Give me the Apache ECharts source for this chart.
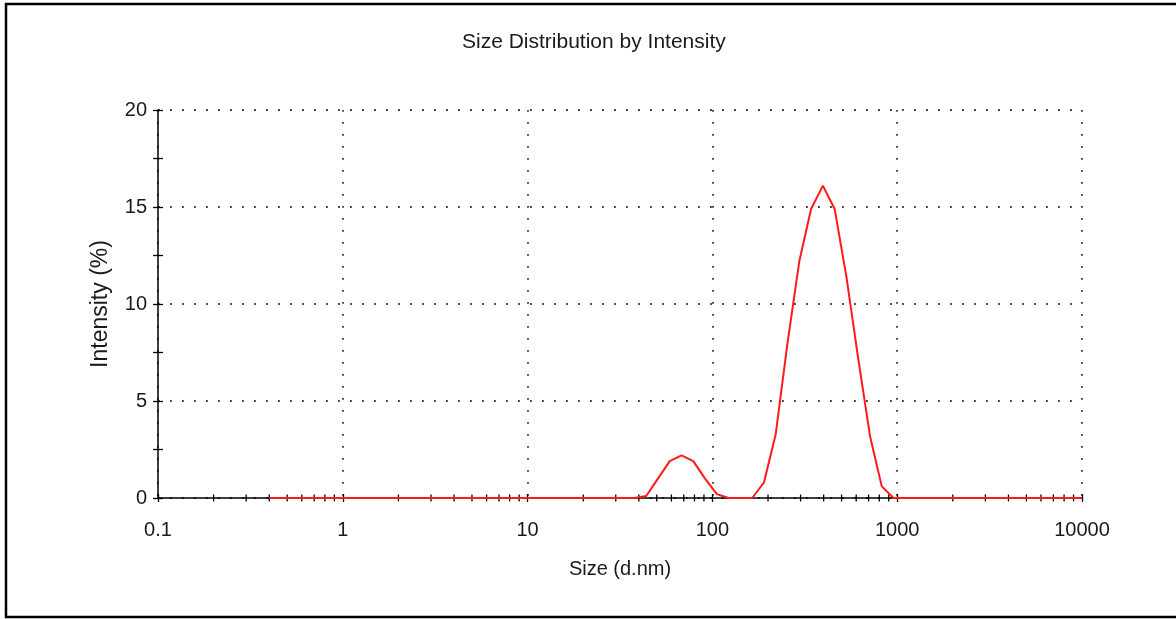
<!DOCTYPE html>
<html>
<head>
<meta charset="utf-8">
<title>Size Distribution by Intensity</title>
<script src="https://cdn.jsdelivr.net/npm/echarts@6/dist/echarts.min.js"></script>
<style>
  html, body { margin: 0; padding: 0; background: #fff; }
  #chart { width: 1176px; height: 619px; }
</style>
</head>
<body>
<div id="chart"></div>
<script>
// size bins (d.nm) and intensity (%)
const sizes = [
  0.4, 0.4632, 0.5365, 0.6213, 0.7195, 0.8332, 0.9649, 1.117, 1.294, 1.499,
  1.736, 2.01, 2.328, 2.696, 3.122, 3.615, 4.187, 4.849, 5.615, 6.503,
  7.531, 8.721, 10.1, 11.7, 13.54, 15.69, 18.17, 21.04, 24.36, 28.21,
  32.67, 37.84, 43.82, 50.75, 58.77, 68.06, 78.82, 91.28, 105.7, 122.4,
  141.8, 164.2, 190.1, 220.2, 255.0, 295.3, 342.0, 396.1, 458.7, 531.2,
  615.1, 712.4, 825.0, 955.4, 1106, 1281, 1484, 1718, 1990, 2305,
  2669, 3091, 3580, 4145, 4801, 5560, 6439, 7456, 8635, 10000
];
const intensity = [
  0, 0, 0, 0, 0, 0, 0, 0, 0, 0,
  0, 0, 0, 0, 0, 0, 0, 0, 0, 0,
  0, 0, 0, 0, 0, 0, 0, 0, 0, 0,
  0, 0, 0.1, 1.0, 1.9, 2.2, 1.9, 1.0, 0.2, 0,
  0, 0, 0.8, 3.3, 8.0, 12.2, 14.9, 16.1, 14.9, 11.4,
  7.2, 3.2, 0.6, 0, 0, 0, 0, 0, 0, 0,
  0, 0, 0, 0, 0, 0, 0, 0, 0, 0
];
const xMinorTicks = [
  0.2, 0.3, 0.4, 0.5, 0.6, 0.7, 0.8, 0.9,
  2, 3, 4, 5, 6, 7, 8, 9,
  20, 30, 40, 50, 60, 70, 80, 90,
  200, 300, 400, 500, 600, 700, 800, 900,
  2000, 3000, 4000, 5000, 6000, 7000, 8000, 9000
];

const font = "'Liberation Sans', Arial, Helvetica, sans-serif";
const textColor = '#1a1a1a';
const gridDots = { color: '#3a3a3a', width: 1.8, type: [1.8, 10.2] };
const tickStyle = { color: '#000', width: 1.3 };

const xCommon = {
  type: 'log',
  logBase: 10,
  min: 0.1,
  max: 10000,
  gridIndex: 0,
  position: 'bottom',
};
const yCommon = {
  type: 'value',
  min: 0,
  max: 20,
  interval: 5,
  gridIndex: 0,
  position: 'left',
};

const chart = echarts.init(document.getElementById('chart'), null, { renderer: 'canvas' });

const option = {
  animation: false,
  backgroundColor: '#fff',
  textStyle: { fontFamily: font },
  title: {
    text: 'Size Distribution by Intensity',
    left: 457,
    top: 27,
    textStyle: { fontFamily: font, fontSize: 21, fontWeight: 'normal', color: textColor },
  },
  grid: { left: 158, right: 94, top: 110, bottom: 121 },
  graphic: [
    {
      type: 'rect',
      shape: { x: 6, y: 4, width: 1200, height: 613 },
      style: { fill: 'none', stroke: '#000', lineWidth: 2.5 },
      silent: true,
    },
  ],
  xAxis: [
    {
      ...xCommon,
      name: 'Size (d.nm)',
      nameLocation: 'middle',
      nameGap: 61,
      nameTextStyle: { fontFamily: font, fontSize: 20, color: textColor },
      axisLine: { show: true, onZero: false, lineStyle: { color: '#000', width: 1.5 } },
      axisTick: { show: true, length: 4, lineStyle: tickStyle },
      axisLabel: {
        fontFamily: font,
        fontSize: 20,
        color: textColor,
        margin: 22,
        formatter: (v) => String(v),
      },
      splitLine: { show: true, lineStyle: gridDots },
    },
    {
      // inner half of the major ticks
      ...xCommon,
      axisLine: { show: false },
      axisTick: { show: true, inside: true, length: 4, lineStyle: tickStyle },
      axisLabel: { show: false },
      splitLine: { show: false },
    },
  ],
  yAxis: [
    {
      ...yCommon,
      name: 'Intensity (%)',
      nameLocation: 'middle',
      nameGap: 46,
      nameTextStyle: { fontFamily: font, fontSize: 23, color: textColor },
      axisLine: { show: true, onZero: false, lineStyle: { color: '#000', width: 1.5 } },
      axisTick: { show: true, length: 5, lineStyle: tickStyle },
      minorTick: { show: true, splitNumber: 2, length: 5, lineStyle: tickStyle },
      axisLabel: { fontFamily: font, fontSize: 20, color: textColor, margin: 11 },
      splitLine: { show: true, lineStyle: gridDots },
    },
    {
      ...yCommon,
      axisLine: { show: false },
      axisTick: { show: true, inside: true, length: 5, lineStyle: tickStyle },
      minorTick: { show: true, splitNumber: 2, length: 5, lineStyle: tickStyle },
      axisLabel: { show: false },
      splitLine: { show: false },
    },
  ],
  series: [
    {
      // minor ticks of the log axis (2..9 in each decade)
      type: 'custom',
      xAxisIndex: 0,
      yAxisIndex: 0,
      silent: true,
      z: 1,
      clip: false,
      data: xMinorTicks.map((v) => [v, 0]),
      renderItem: (params, api) => {
        const p = api.coord([api.value(0), 0]);
        return {
          type: 'line',
          shape: { x1: p[0], y1: p[1] - 3.5, x2: p[0], y2: p[1] + 3.5 },
          style: { stroke: '#000', lineWidth: 1.3 },
        };
      },
    },
    {
      name: 'Intensity',
      type: 'line',
      xAxisIndex: 0,
      yAxisIndex: 0,
      z: 3,
      showSymbol: false,
      symbol: 'none',
      clip: false,
      lineStyle: { color: '#ff1a1a', width: 2 },
      data: sizes.map((s, i) => [s, intensity[i]]),
    },
  ],
};

chart.setOption(option);
</script>
</body>
</html>
